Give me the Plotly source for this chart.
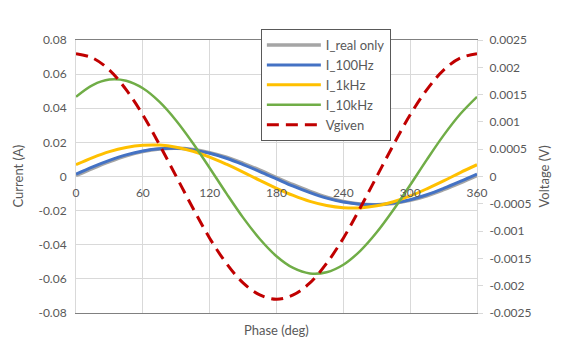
import plotly.graph_objects as go

# ---- data ----
phase = [0, 15, 30, 45, 60, 75, 90, 105, 120, 135, 150, 165, 180,
         195, 210, 225, 240, 255, 270, 285, 300, 315, 330, 345, 360]

i_real = [0.0006, 0.0048, 0.0087, 0.0121, 0.0146, 0.0161, 0.0165, 0.0158, 0.0140,
          0.0113, 0.0077, 0.0037, -0.0006, -0.0048, -0.0087, -0.0121, -0.0146,
          -0.0161, -0.0165, -0.0158, -0.0140, -0.0113, -0.0077, -0.0037, 0.0006]

i_100hz = [0.0014, 0.0057, 0.0095, 0.0127, 0.0150, 0.0163, 0.0165, 0.0156, 0.0136,
           0.0107, 0.0070, 0.0029, -0.0014, -0.0057, -0.0095, -0.0127, -0.0150,
           -0.0163, -0.0165, -0.0156, -0.0136, -0.0107, -0.0070, -0.0029, 0.0014]

i_1khz = [0.0069, 0.0111, 0.0146, 0.0170, 0.0183, 0.0184, 0.0172, 0.0148, 0.0114,
          0.0072, 0.0026, -0.0023, -0.0069, -0.0111, -0.0146, -0.0170, -0.0183,
          -0.0184, -0.0172, -0.0148, -0.0114, -0.0072, -0.0026, 0.0023, 0.0069]

i_10khz = [0.0467, 0.0536, 0.0568, 0.0561, 0.0517, 0.0437, 0.0327, 0.0195, 0.0050,
           -0.0099, -0.0241, -0.0366, -0.0467, -0.0536, -0.0568, -0.0561, -0.0517,
           -0.0437, -0.0327, -0.0195, -0.0050, 0.0099, 0.0241, 0.0366, 0.0467]

v_given = [0.00225, 0.00217, 0.00195, 0.00159, 0.00113, 0.00058, 0.0, -0.00058,
           -0.00113, -0.00159, -0.00195, -0.00217, -0.00225, -0.00217, -0.00195,
           -0.00159, -0.00113, -0.00058, 0.0, 0.00058, 0.00113, 0.00159, 0.00195,
           0.00217, 0.00225]

x_ticks = [0, 60, 120, 180, 240, 300, 360]
x_ticktext = ["0", "60", "120", "180", "240", "300", "360"]
left_ticks = [-0.08, -0.06, -0.04, -0.02, 0, 0.02, 0.04, 0.06, 0.08]
left_ticktext = ["-0.08", "-0.06", "-0.04", "-0.02", "0", "0.02", "0.04", "0.06", "0.08"]
right_ticks = [-0.0025, -0.002, -0.0015, -0.001, -0.0005, 0, 0.0005, 0.001, 0.0015, 0.002, 0.0025]
right_ticktext = ["-0.0025", "-0.002", "-0.0015", "-0.001", "-0.0005", "0",
                  "0.0005", "0.001", "0.0015", "0.002", "0.0025"]

FONT = "Lato, Calibri, sans-serif"
TXT = "#595959"
GRID = "#D9D9D9"

fig = go.Figure()
fig.add_trace(go.Scatter(x=phase, y=i_real, name="I_real only", mode="lines",
                         line=dict(color="#A5A5A5", width=3.5, shape="spline")))
fig.add_trace(go.Scatter(x=phase, y=i_100hz, name="I_100Hz", mode="lines",
                         line=dict(color="#4472C4", width=3, shape="spline")))
fig.add_trace(go.Scatter(x=phase, y=i_1khz, name="I_1kHz", mode="lines",
                         line=dict(color="#FFC000", width=3, shape="spline")))
fig.add_trace(go.Scatter(x=phase, y=i_10khz, name="I_10kHz", mode="lines",
                         line=dict(color="#70AD47", width=2.5, shape="spline")))
fig.add_trace(go.Scatter(x=phase, y=v_given, name="Vgiven", mode="lines",
                         xaxis="x2", yaxis="y2",
                         line=dict(color="#C00000", width=3, dash="12px,7px", shape="spline")))

fig.update_layout(
    width=558, height=349,
    margin=dict(l=68, r=89, t=32, b=44, autoexpand=False),
    paper_bgcolor="white", plot_bgcolor="white",
    font=dict(family=FONT, size=12, color=TXT),
    showlegend=True,
    legend=dict(x=0.461, y=1.04, xanchor="left", yanchor="top",
                bgcolor="white", bordercolor="#595959", borderwidth=1,
                font=dict(size=13, color=TXT), itemwidth=54,
                tracegroupgap=0),
    xaxis=dict(range=[0, 360], tickvals=x_ticks, showticklabels=False,
               showgrid=True, gridcolor=GRID, gridwidth=1,
               showline=True, linecolor="#808080", linewidth=1.3, mirror=True,
               zeroline=False, ticks="", automargin=False),
    xaxis2=dict(range=[0, 360], overlaying="x", anchor="free", position=0.5,
                side="bottom", tickvals=x_ticks, ticktext=x_ticktext,
                showgrid=False, showline=False, zeroline=False, ticks="",
                ticklabelstandoff=7,
                tickfont=dict(size=12, color=TXT), automargin=False),
    yaxis=dict(range=[-0.08, 0.08], tickvals=left_ticks, ticktext=left_ticktext,
               showgrid=True, gridcolor=GRID, gridwidth=1,
               zeroline=True, zerolinecolor=GRID, zerolinewidth=1,
               showline=True, linecolor=GRID, linewidth=1, ticks="",
               ticklabelstandoff=6, automargin=False),
    yaxis2=dict(range=[-0.0025, 0.0025], tickvals=right_ticks, ticktext=right_ticktext,
                overlaying="y", anchor="x", side="right",
                showgrid=False, zeroline=False,
                showline=True, linecolor=GRID, linewidth=1,
                ticks="outside", ticklen=5, tickcolor=GRID, automargin=False,
                ticklabelstandoff=4),
)

fig.add_annotation(text="Phase (deg)", xref="paper", yref="paper", x=0.5, y=0,
                   yshift=-7, yanchor="top", showarrow=False,
                   font=dict(size=13, color=TXT, family=FONT))
fig.add_annotation(text="Current (A)", xref="paper", yref="paper", x=0, y=0.5,
                   xanchor="center", yanchor="middle",
                   xshift=-59, textangle=-90, showarrow=False,
                   font=dict(size=13, color=TXT, family=FONT))
fig.add_annotation(text="Voltage (V)", xref="paper", yref="paper", x=1, y=0.5,
                   xanchor="center", yanchor="middle",
                   xshift=66, textangle=-90, showarrow=False,
                   font=dict(size=13, color=TXT, family=FONT))

fig.write_html("out.html")
